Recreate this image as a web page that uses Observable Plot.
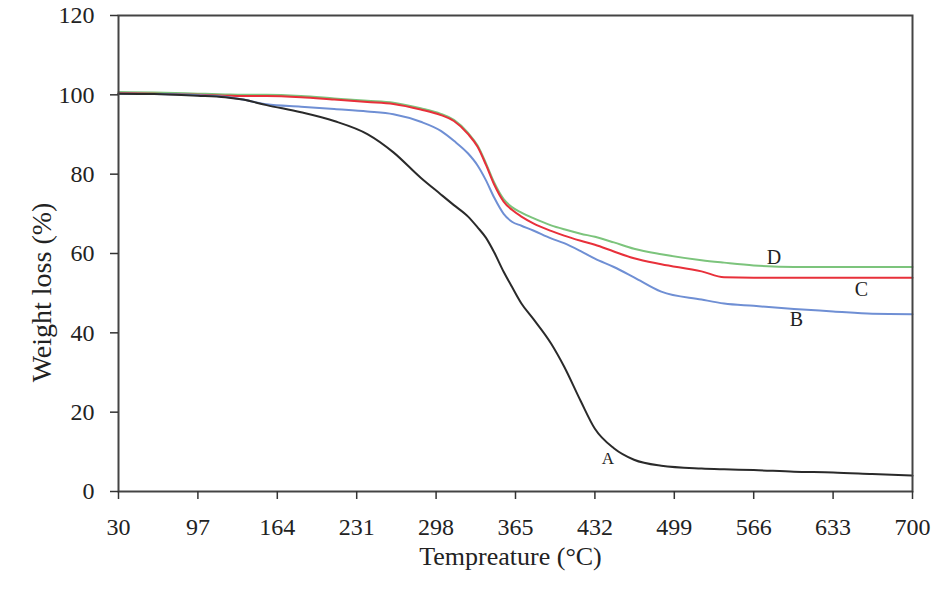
<!DOCTYPE html>
<html>
<head>
<meta charset="utf-8">
<script src="https://cdn.jsdelivr.net/npm/d3@7"></script>
<script src="https://cdn.jsdelivr.net/npm/@observablehq/plot@0.6"></script>
<style>
  html, body { margin: 0; padding: 0; background: #fff; }
  #chart svg { display: block; }
</style>
</head>
<body>
<div id="chart"></div>
<script>
// Temperature (°C) sample points shared by all four thermograms
const temperature = [30, 60, 97, 120, 135, 155, 184, 212, 240, 262, 285, 302, 313, 325, 333, 340, 347, 355, 362, 370, 380, 395, 406, 420, 432, 448, 465, 488, 522, 541, 566, 600, 633, 666, 700];

// Residual weight (%) for each sample
const sampleA = [100.3, 100.2, 99.8, 99.4, 98.8, 97.4, 95.6, 93.4, 90.1, 85.5, 79.1, 74.9, 72.2, 69.3, 66.6, 64.0, 60.3, 55.4, 51.6, 47.4, 43.5, 37.3, 31.5, 22.8, 15.8, 10.9, 8.0, 6.5, 5.8, 5.6, 5.4, 5.0, 4.8, 4.4, 4.0];
const sampleB = [100.3, 100.2, 99.9, 99.5, 98.8, 97.6, 97.0, 96.4, 95.8, 95.1, 93.2, 90.9, 88.4, 85.2, 82.2, 78.5, 74.1, 70.0, 68.0, 67.0, 65.8, 63.8, 62.6, 60.6, 58.7, 56.6, 54.0, 50.4, 48.4, 47.4, 46.8, 46.0, 45.4, 44.8, 44.7];
const sampleC = [100.4, 100.3, 100.0, 99.8, 99.7, 99.7, 99.4, 98.8, 98.2, 97.7, 96.3, 94.9, 93.4, 90.1, 86.9, 82.4, 77.4, 73.1, 71.0, 69.3, 67.6, 65.7, 64.5, 63.2, 62.2, 60.5, 58.8, 57.3, 55.5, 54.0, 53.9, 53.9, 53.9, 53.9, 53.9];
const sampleD = [100.7, 100.6, 100.3, 100.1, 100.0, 100.0, 99.7, 99.1, 98.5, 98.0, 96.6, 95.2, 93.7, 90.4, 87.2, 82.8, 77.9, 73.7, 71.7, 70.3, 68.9, 67.1, 66.1, 65.0, 64.2, 62.8, 61.2, 59.8, 58.3, 57.7, 57.0, 56.6, 56.6, 56.6, 56.6];

// Series names, colours and label placement
const seriesNames = ["A", "B", "C", "D"];
const seriesColors = ["#2a2a2a", "#6f8fd4", "#e8303a", "#7cc47c"];
const labelTemp = [443, 602, 657, 583];
const labelWeight = [8.4, 43.3, 50.9, 58.9];

// Axis ticks
const xTicks = [30, 97, 164, 231, 298, 365, 432, 499, 566, 633, 700];
const yTicks = [0, 20, 40, 60, 80, 100, 120];

const seriesValues = [sampleA, sampleB, sampleC, sampleD];
const rows = seriesNames.flatMap((name, s) =>
  temperature.map((t, i) => ({series: name, t, w: seriesValues[s][i]}))
);
const labels = seriesNames.map((name, s) => ({series: name, t: labelTemp[s], w: labelWeight[s]}));

// Draw order: D, C, B, A (black on top)
const drawOrder = ["D", "C", "B", "A"];

const chart = Plot.plot({
  width: 947,
  height: 599,
  marginLeft: 118,
  marginRight: 35,
  marginTop: 15,
  marginBottom: 108,
  style: {fontFamily: "'Liberation Serif', 'Times New Roman', serif", fontSize: "24px", color: "#222", background: "#fff"},
  x: {domain: [30, 700], ticks: xTicks},
  y: {domain: [0, 120], ticks: yTicks},
  color: {domain: seriesNames, range: seriesColors},
  marks: [
    ...drawOrder.map(name => Plot.line(rows.filter(d => d.series === name), {
      x: "t", y: "w", stroke: "series", strokeWidth: 2, curve: "monotone-x"
    })),
    Plot.frame({stroke: "#444", strokeWidth: 2}),
    Plot.axisX({ticks: xTicks, tickSize: 8, tickPadding: 18, tickFormat: d => String(d), label: null, fontSize: 24, stroke: "#333", strokeWidth: 1.5}),
    Plot.axisY({ticks: yTicks, tickSize: 8, tickPadding: 16, tickFormat: d => String(d), label: null, fontSize: 24, stroke: "#333", strokeWidth: 1.5}),
    Plot.text(labels, {x: "t", y: "w", text: "series", fontSize: d => d.series === "A" ? 17 : 20, fill: "#222"}),
    Plot.text(["Tempreature (°C)"], {frameAnchor: "bottom", textAnchor: "middle", lineAnchor: "middle", dx: -5, dy: 65, fontSize: 26, fill: "#222"}),
    Plot.text(["Weight loss (%)"], {frameAnchor: "left", textAnchor: "middle", lineAnchor: "middle", rotate: -90, dx: -76, dy: 39, fontSize: 28, fill: "#222"})
  ]
});

document.getElementById("chart").appendChild(chart);
</script>
</body>
</html>
